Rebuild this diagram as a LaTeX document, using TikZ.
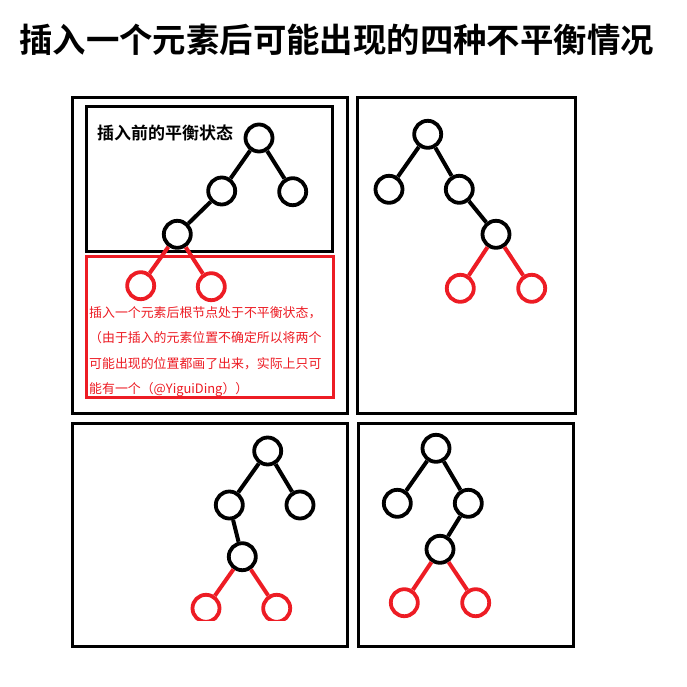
\documentclass[tikz,border=0pt]{standalone}
\usepackage{fontspec}
\setmainfont{Noto Sans CJK SC}[BoldFont={Noto Sans CJK SC Bold}]
\definecolor{pred}{HTML}{ED1C24}
\begin{document}
\begin{tikzpicture}[x=1pt,y=-1pt,
  box/.style={draw, line width=3pt},
  nd/.style={circle, draw, line width=3.8pt, minimum size=27pt, inner sep=0pt},
  rnd/.style={nd, draw=pred},
  ed/.style={line width=4pt},
  redge/.style={line width=4pt, draw=pred},
  line/.style={anchor=base west, inner sep=0pt, text=pred, font=\fontsize{12.9}{12.9}\selectfont}
]
\useasboundingbox[fill=white] (0,0) rectangle (687,687);

\node[font=\bfseries\fontsize{33.4}{33.4}\selectfont, anchor=west, inner sep=0pt] (title) at (19,40) {插入一个元素后可能出现的四种不平衡情况};

% panel frames
\draw[box] (72,98) rectangle (347,413);
\draw[box] (357.5,98) rectangle (575,413);
\draw[box] (72,423) rectangle (347,646);
\draw[box] (358,423) rectangle (573.5,646);
\draw[box] (86.5,106.5) rectangle (332,251.5);
\draw[box, draw=pred] (86.5,256) rectangle (333,397.5);

% panel 1
\node[font=\bfseries\fontsize{17}{17}\selectfont, anchor=west, inner sep=0pt] (lbl) at (97,133) {插入前的平衡状态};
\node[nd] (a1) at (259,138) {};
\node[nd] (b1) at (221.7,191) {};
\node[nd] (c1) at (292.7,191.7) {};
\node[nd] (d1) at (177.3,234.3) {};
\node[rnd] (e1) at (140.7,285.7) {};
\node[rnd] (f1) at (211.3,286.7) {};
\draw[ed] (a1) -- (b1);
\draw[ed] (a1) -- (c1);
\draw[ed] (b1) -- (d1);
\draw[redge] (d1) -- (e1);
\draw[redge] (d1) -- (f1);
\node[line] (t1) at (89,317) {插入一个元素后根节点处于不平衡状态，};
\node[line] (t2) at (89,342.5) {（由于插入的元素位置不确定所以将两个};
\node[line] (t3) at (89,368) {可能出现的位置都画了出来，实际上只可};
\node[line] (t4) at (89,393) {能有一个（@YiguiDing））};

% panel 2
\node[nd] (a2) at (427.7,134.3) {};
\node[nd] (b2) at (389,189.3) {};
\node[nd] (c2) at (459.3,189.3) {};
\node[nd] (d2) at (496,234.3) {};
\node[rnd] (e2) at (460.3,288.3) {};
\node[rnd] (f2) at (531.7,288.3) {};
\draw[ed] (a2) -- (b2);
\draw[ed] (a2) -- (c2);
\draw[ed] (c2) -- (d2);
\draw[redge] (d2) -- (e2);
\draw[redge] (d2) -- (f2);

% panel 3
\node[nd] (a3) at (267.7,451) {};
\node[nd] (b3) at (229.3,505) {};
\node[nd] (c3) at (300,505) {};
\node[nd] (d3) at (242.3,556.7) {};
\draw[ed] (a3) -- (b3);
\draw[ed] (a3) -- (c3);
\draw[ed] (b3) -- (d3);
\begin{scope}
\clip (60,430) rectangle (360,620);
\node[rnd] (e3) at (206,608.3) {};
\node[rnd] (f3) at (276.7,608.3) {};
\draw[redge] (d3) -- (e3);
\draw[redge] (d3) -- (f3);
\end{scope}

% panel 4
\node[nd] (a4) at (436,448.3) {};
\node[nd] (b4) at (397.3,503.3) {};
\node[nd] (c4) at (468.3,503.3) {};
\node[nd] (d4) at (440,549.3) {};
\node[rnd] (e4) at (404.3,602.7) {};
\node[rnd] (f4) at (475.7,602.7) {};
\draw[ed] (a4) -- (b4);
\draw[ed] (a4) -- (c4);
\draw[ed] (c4) -- (d4);
\draw[redge] (d4) -- (e4);
\draw[redge] (d4) -- (f4);
\end{tikzpicture}
\end{document}
